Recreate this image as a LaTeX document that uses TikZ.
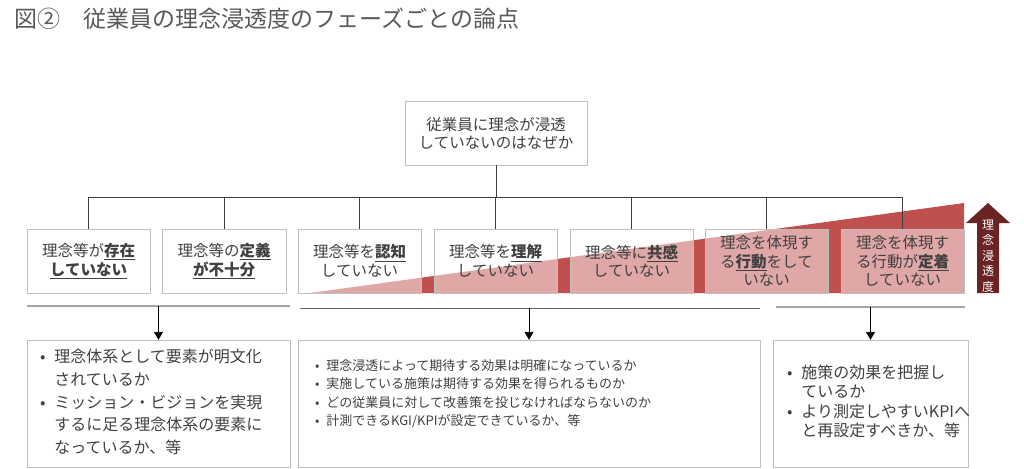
\documentclass[tikz,border=0pt]{standalone}
\usepackage{fontspec}
\setmainfont{Noto Sans CJK JP}
\usetikzlibrary{arrows.meta}

\definecolor{phasered}{HTML}{C0504D}
\definecolor{arrowred}{HTML}{6B2323}
\definecolor{boxgray}{HTML}{BFBFBF}
\definecolor{linegray}{HTML}{A6A6A6}
\definecolor{conngray}{HTML}{3F3F3F}
\definecolor{textgray}{HTML}{404040}
\definecolor{titlegray}{HTML}{595959}

\newcommand{\keyterm}[1]{\textbf{\underline{#1}}}

\begin{document}
\begin{tikzpicture}
  [
  x=1pt, y=-1pt,
  topbox/.style={draw=boxgray, fill=white, minimum width=182pt, minimum height=64pt, inner sep=0pt, align=center, text=textgray, font=\fontsize{15.5}{18}\selectfont},
  phasebox/.style={draw=boxgray, fill=white, fill opacity=0.5, text opacity=1, minimum width=123.5pt, minimum height=64pt, inner sep=0pt, align=center, text=textgray, font=\fontsize{15.5}{18.5}\selectfont},
  notebox/.style={draw=boxgray, minimum height=127pt, inner ysep=0pt, align=left, text=textgray},
  conn/.style={draw=conngray, line width=0.9pt},
  downarrow/.style={draw=black, line width=0.9pt, -{Triangle[length=8pt,width=9pt]}},
  sepline/.style={draw=linegray, line width=2pt},
  sepdark/.style={draw=conngray!80, line width=1pt}
  ]
  \useasboundingbox (0,0) rectangle (1024,468);

  % title
  \node[anchor=west, text=titlegray, font=\fontsize{23}{27}\selectfont] (title) at (11,19) {図②　従業員の理念浸透度のフェーズごとの論点};

  % rising band behind the phases
  \fill[phasered] (310,293) -- (964,293) -- (964,203) -- cycle;

  % depth arrow
  \fill[arrowred] (977,293) -- (977,223) -- (966,223) -- (988,203) -- (1010,223) -- (999,223) -- (999,293) -- cycle;
  \node[text=white, align=center, inner sep=0pt, font=\fontsize{12}{15.5}\selectfont] (depth) at (988,256) {理\\念\\浸\\透\\度};

  % question and phases
  \node[topbox] (q) at (496,133) {従業員に理念が浸透\\していないのはなぜか};
  \coordinate (bar) at (496,197);

  \node[phasebox] (p1) at (88.5,261) {理念等が\keyterm{存在}\\\keyterm{していない}};
  \node[phasebox] (p2) at (224,261) {理念等の\keyterm{定義}\\\keyterm{が不十分}};
  \node[phasebox] (p3) at (359.5,261) {理念等を\keyterm{認知}\\していない};
  \node[phasebox] (p4) at (495.5,261) {理念等を\keyterm{理解}\\していない};
  \node[phasebox] (p5) at (631.5,261) {理念等に\keyterm{共感}\\していない};
  \node[phasebox] (p6) at (766.5,261) {理念を体現す\\る\keyterm{行動}をして\\いない};
  \node[phasebox] (p7) at (902.5,261) {理念を体現す\\る行動が\keyterm{定着}\\していない};

  \draw[conn] (q.south) -- (bar);
  \foreach \i in {1,...,7}
    \draw[conn] (bar) -| (p\i.north);

  % groupings
  \draw[sepline] (27,306) -- (290,306);
  \draw[sepdark] (300,308) -- (760,308);
  \draw[sepline] (776,307) -- (965,307);

  % issues per group
  \node[notebox, text width=237pt, inner xsep=13pt, font=\fontsize{16}{22.7}\selectfont] (n1) at (158.5,403.5)
    {\begin{tabular}{@{}l@{\hspace{9pt}}l@{}}
      • & 理念体系として要素が明文化\\
        & されているか\\
      • & ミッション・ビジョンを実現\\
        & するに足る理念体系の要素に\\
        & なっているか、等
    \end{tabular}};
  \node[notebox, text width=428pt, inner xsep=17pt, font=\fontsize{13}{18.5}\selectfont] (n2) at (529,403.5)
    {\begin{tabular}{@{}l@{\hspace{7pt}}l@{}}
      • & 理念浸透によって期待する効果は明確になっているか\\
      • & 実施している施策は期待する効果を得られるものか\\
      • & どの従業員に対して改善策を投じなければならないのか\\
      • & 計測できるKGI/KPIが設定できているか、等\\
        &
    \end{tabular}};
  \node[notebox, text width=167pt, inner xsep=14pt, font=\fontsize{16}{19.3}\selectfont] (n3) at (870.5,403.5)
    {\begin{tabular}{@{}l@{\hspace{9pt}}l@{}}
      • & 施策の効果を把握し\\
        & ているか\\
      • & より測定しやすいKPIへ\\
        & と再設定すべきか、等
    \end{tabular}};

  \coordinate (d1) at (158.5,306);
  \coordinate (d2) at (529,308);
  \coordinate (d3) at (870.5,307);
  \draw[downarrow] (d1) -- (n1.north);
  \draw[downarrow] (d2) -- (n2.north);
  \draw[downarrow] (d3) -- (n3.north);
\end{tikzpicture}
\end{document}
